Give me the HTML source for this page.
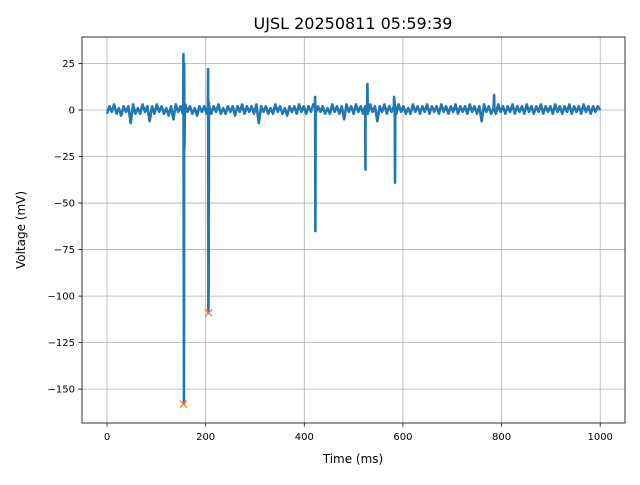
<!DOCTYPE html>
<html><head><meta charset="utf-8"><style>
body{margin:0;background:#fff;font-family:"Liberation Sans","DejaVu Sans",sans-serif;}
svg text{font-family:"DejaVu Sans","Liberation Sans",sans-serif;}
</style></head><body>
<svg id="chart" width="640" height="480">
<rect width="640" height="480" fill="#fff"/>
<text x="353" y="29" font-size="16" text-anchor="middle">UJSL 20250811 05:59:39</text>
<g id="grid"></g><g id="series"></g><g id="axes"></g>
<text x="353" y="463" font-size="12" text-anchor="middle">Time (ms)</text>
<text transform="translate(25,230) rotate(-90)" font-size="12" text-anchor="middle">Voltage (mV)</text>
</svg>
<script>
const baseVals=[-2,2,-1,3,-2,1,-3,2,-1,2,-7,3,-2,1,-2,3,-1,2,-6,2,-2,3,-1,2,-2,1,-3,2,-5,3,-1,2,-2,3,-1,2,-2,1,-3,2,-1,2,-2,4,-2,2,-1,3,-2,1,-2,2,-1,2,-3,2,-1,3,-2,2,-1,2,-2,3,-7,2,-1,2,-2,1,-2,3,-1,2,-2,1,-3,2,-1,2,-2,3,-1,2,-2,2,-1,3,-2,2,-1,2,-2,1,-2,3,-1,2,-2,2,-5,3,-1,2,-2,3,-1,2,-2,1,-2,3,-1,2,-6,2,-1,3,-2,2,-1,2,-2,3,-1,2,-2,1,-2,3,-1,2,-2,2,-1,3,-2,2,-1,2,-2,3,-1,2,-2,2,-1,3,-2,2,-1,2,-2,3,-1,2,-2,2,-6,3,-1,2,-2,1,-2,3,-1,2,-2,2,-1,3,-2,2,-1,2,-2,3,-1,2,-2,2,-1,3,-2,2,-1,2,-2,3,-1,2,-2,2,-1,3,-2,2,-1,2,-2,3,-1,2,-2,2,-1,2,0];
const tStart=0,tEnd=1000;
const spikeT=[154.5,155,155.5,156,156.5,157,158,204.5,205,205.5,206,207,421.5,422,422.5,423,523.5,524,524.5,527.5,528,528.5,582,583.5,584,584.5,785,785.5];
const spikeV=[2,30,-50,-158,25,-20,2,2,22,-109,-100,2,2,7,-65,2,2,-32,2,2,14,2,7,2,-39,2,8,0];
const markT=[155,206];
const markV=[-158,-109];
const xTicks=[0,200,400,600,800,1000];
const yTicks=[25,0,-25,-50,-75,-100,-125,-150];
const L=82,R=625,T=37,B=423;
const X=t=>107+t*0.4932, Y=v=>110-v*1.861;
const NS="http://www.w3.org/2000/svg";
function mk(tag,attrs,parent){const e=document.createElementNS(NS,tag);for(const k in attrs)e.setAttribute(k,attrs[k]);parent.appendChild(e);return e;}
const grid=document.getElementById('grid'),axes=document.getElementById('axes'),series=document.getElementById('series');
xTicks.forEach(t=>{const x=X(t);
 const g=mk('line',{x1:x,x2:x,y1:T,y2:B,stroke:'#b0b0b0','stroke-width':0.8},grid);
 
 mk('line',{x1:x,x2:x,y1:B,y2:B+3.5,stroke:'#000','stroke-width':0.8},axes);
 const tx=mk('text',{x:x,y:B+17,'font-size':10,'text-anchor':'middle'},axes);tx.textContent=t;
 });
yTicks.forEach(v=>{const y=Y(v);
 const g=mk('line',{x1:L,x2:R,y1:y,y2:y,stroke:'#b0b0b0','stroke-width':0.8},grid);
 
 mk('line',{x1:L-3.5,x2:L,y1:y,y2:y,stroke:'#000','stroke-width':0.8},axes);
 const tx=mk('text',{x:L-7,y:y+3.5,'font-size':10,'text-anchor':'end'},axes);tx.textContent=v<0?'\u2212'+(-v):v;
 });
const fr=mk('rect',{x:L,y:T,width:R-L,height:B-T,fill:'none',stroke:'#000','stroke-width':0.8},axes);

const step=(tEnd-tStart)/(baseVals.length-1);
let pts=baseVals.map((v,i)=>[tStart+i*step,v]);
spikeT.forEach((t,i)=>pts.push([t,spikeV[i]]));
pts.sort((a,b)=>a[0]-b[0]);
const ln=mk('polyline',{points:pts.map(p=>X(p[0]).toFixed(2)+','+Y(p[1]).toFixed(2)).join(' '),fill:'none',stroke:'#1f77b4','stroke-width':2.6,'stroke-linejoin':'round'},series);

markT.forEach((t,i)=>{const x=X(t),y=Y(markV[i]);
 const p=mk('path',{d:`M${x-3.5},${y-3.5}L${x+3.5},${y+3.5}M${x-3.5},${y+3.5}L${x+3.5},${y-3.5}`,stroke:'#ff7f0e','stroke-width':1.3},series);
 });
</script>
</body></html>
